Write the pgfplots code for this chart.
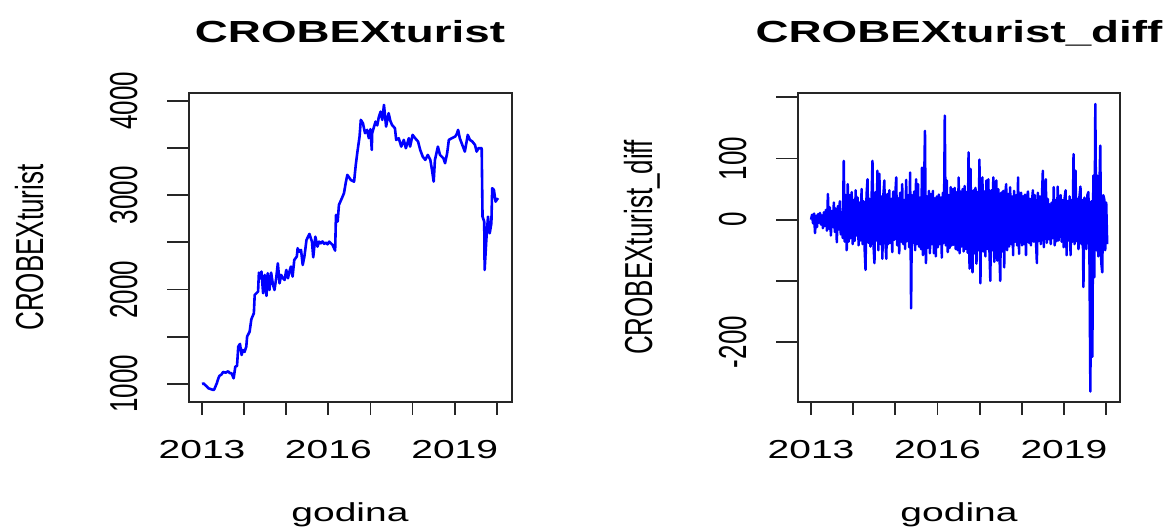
\documentclass[border=0pt]{standalone}
\usepackage{fontspec}
\setmainfont{Liberation Sans}
\usepackage{graphicx}
\usepackage{pgfplots}
\usepackage{pgfplotstable}
\pgfplotsset{compat=1.18}
\newcommand\hs[1]{\scalebox{1.5}[1]{#1}}
\newcommand\vs[1]{\scalebox{1}[1.5]{#1}}
\newcommand\tkfont{\fontsize{26}{26}\selectfont}

\pgfplotstableread{
t v
2013.00 1000
2013.04 1005
2013.07 990
2013.11 975
2013.15 954
2013.21 945
2013.27 936
2013.29 943
2013.35 1007
2013.38 1050
2013.41 1085
2013.46 1100
2013.50 1127
2013.56 1120
2013.62 1134
2013.66 1115
2013.70 1113
2013.75 1060
2013.79 1184
2013.83 1191
2013.86 1396
2013.90 1424
2013.94 1307
2013.97 1360
2014.01 1340
2014.05 1396
2014.07 1502
2014.13 1555
2014.17 1685
2014.23 1749
2014.25 1943
2014.29 1961
2014.33 1979
2014.35 2180
2014.38 2120
2014.41 2191
2014.45 1961
2014.49 2155
2014.53 1933
2014.56 2173
2014.60 1996
2014.64 2180
2014.68 2060
2014.72 1996
2014.76 2120
2014.80 2279
2014.84 2067
2014.88 2155
2014.92 2120
2014.96 2102
2015.00 2208
2015.04 2120
2015.08 2200
2015.11 2244
2015.15 2138
2015.19 2314
2015.25 2350
2015.27 2438
2015.31 2400
2015.35 2420
2015.39 2261
2015.43 2350
2015.48 2526
2015.55 2590
2015.61 2508
2015.64 2342
2015.69 2561
2015.74 2455
2015.78 2508
2015.82 2490
2015.86 2510
2015.90 2485
2015.94 2498
2015.98 2480
2016.02 2508
2016.06 2490
2016.10 2473
2016.16 2413
2016.18 2791
2016.22 2720
2016.25 2897
2016.32 2968
2016.37 3021
2016.41 3127
2016.45 3215
2016.49 3190
2016.53 3162
2016.61 3144
2016.65 3321
2016.69 3462
2016.74 3621
2016.77 3798
2016.82 3763
2016.87 3657
2016.92 3692
2016.96 3604
2017.00 3700
2017.03 3480
2017.04 3657
2017.08 3720
2017.12 3780
2017.16 3740
2017.20 3833
2017.24 3886
2017.28 3798
2017.32 3957
2017.37 3727
2017.40 3800
2017.43 3869
2017.47 3790
2017.51 3745
2017.58 3710
2017.61 3586
2017.67 3604
2017.73 3515
2017.79 3586
2017.84 3498
2017.91 3604
2017.94 3515
2018.00 3639
2018.06 3604
2018.13 3568
2018.18 3480
2018.24 3409
2018.30 3374
2018.36 3427
2018.42 3374
2018.46 3268
2018.50 3144
2018.53 3374
2018.60 3515
2018.65 3427
2018.73 3392
2018.77 3339
2018.82 3445
2018.86 3586
2018.93 3604
2019.01 3621
2019.05 3650
2019.08 3692
2019.12 3604
2019.18 3533
2019.24 3462
2019.31 3639
2019.36 3586
2019.42 3568
2019.48 3533
2019.52 3462
2019.56 3498
2019.64 3498
2019.66 2773
2019.70 2720
2019.71 2208
2019.75 2526
2019.79 2773
2019.83 2597
2019.87 2703
2019.89 3074
2019.93 3056
2019.97 2932
2020.01 2960
2020.03 2950
}\leveldata

\pgfplotstableread[row sep=\\]{
d\\
0\\ 8\\ -6\\ 10\\ -22\\ 6\\ -12\\ 9\\ -5\\ 11\\ -8\\ 7\\ -14\\ 12\\ -10\\ 16\\ -18\\ 42\\ -15\\ 20\\
-26\\ 14\\ -12\\ 28\\ -20\\ 18\\ -37\\ 22\\ -16\\ 30\\ -24\\ 12\\ -30\\ 96\\ -36\\ 40\\ -50\\ 58\\ -36\\ 40\\
-30\\ 45\\ -40\\ 32\\ -35\\ 48\\ -26\\ 36\\ -42\\ 28\\ -34\\ 50\\ -40\\ 30\\ -45\\ -82\\ 40\\ 66\\ -38\\ 34\\
-44\\ 28\\ 96\\ -40\\ -71\\ 45\\ -34\\ 80\\ -50\\ 75\\ -40\\ 38\\ -64\\ 40\\ 64\\ -36\\ -64\\ 42\\ -40\\ 48\\
-38\\ 34\\ -53\\ 46\\ -33\\ 40\\ 69\\ -42\\ 35\\ -55\\ 44\\ -36\\ 58\\ -40\\ 32\\ -48\\ 65\\ -35\\ 40\\ -45\\
77\\ -145\\ 40\\ -38\\ 46\\ -50\\ 66\\ -40\\ 58\\ -44\\ 36\\ -48\\ 85\\ -58\\ 40\\ 145\\ -71\\ 38\\ -46\\ 47\\
-55\\ 42\\ -40\\ 47\\ -55\\ 35\\ -60\\ 38\\ -45\\ 41\\ -40\\ 36\\ -62\\ 44\\ -38\\ 170\\ -42\\ 64\\ -53\\ 40\\
-46\\ 53\\ -42\\ 50\\ -41\\ 52\\ -48\\ 45\\ -50\\ 69\\ -55\\ 46\\ -44\\ 50\\ -52\\ 55\\ -48\\ 45\\ -54\\ 110\\
-80\\ 83\\ -50\\ -86\\ 48\\ -55\\ 52\\ -72\\ 45\\ -50\\ 98\\ -104\\ 50\\ 69\\ -52\\ 46\\ -60\\ 64\\ -48\\ 66\\
-45\\ -100\\ 48\\ -50\\ 69\\ -69\\ 45\\ 64\\ -67\\ 50\\ -46\\ -100\\ 44\\ -52\\ 47\\ -78\\ 40\\ 58\\ -50\\ 42\\
-44\\ 53\\ -40\\ 38\\ -58\\ 47\\ -36\\ 40\\ -42\\ 69\\ -56\\ 35\\ 44\\ -42\\ 38\\ -40\\ 41\\ -58\\ 36\\ 46\\
-38\\ 34\\ -42\\ 30\\ 48\\ -36\\ 40\\ -32\\ -71\\ 44\\ -35\\ 38\\ -40\\ 32\\ 80\\ -45\\ 35\\ 66\\ -38\\ 34\\
-32\\ 25\\ -40\\ 28\\ -30\\ 53\\ -42\\ 32\\ -35\\ 54\\ -34\\ 30\\ 40\\ -36\\ 32\\ -45\\ 35\\ 48\\ -58\\ 30\\
-34\\ 38\\ -58\\ 32\\ -36\\ 107\\ -40\\ 80\\ -35\\ 34\\ -48\\ 38\\ 54\\ -40\\ 32\\ -110\\ 36\\ 25\\ -48\\ 40\\
45\\ -45\\ -281\\ 30\\ -224\\ 72\\ -94\\ 189\\ -50\\ 72\\ -60\\ 40\\ 121\\ -70\\ -86\\ 40\\ 34\\ -50\\ 28\\ -40\\
}\diffdata

\pgfplotsset{
  rbox/.style={
    scale only axis, height=309pt, anchor=south west,
    axis line style={line width=1.8pt, black!85},
    xtick={2013,2014,...,2020},
    xtick pos=lower,
    tick align=outside,
    major tick length=13pt,
    xtick style={line width=1.8pt, black!85},
    xticklabel style={anchor=base, font=\tkfont},
    xticklabel shift=44pt,
    ytick=\empty,
  },
  rticks/.style={
    scale only axis, height=309pt, anchor=south west,
    hide x axis, xtick=\empty, axis y line*=left,
    y axis line style={draw=none},
    tick align=outside,
    major tick length=22pt,
    ytick style={line width=1.8pt, black!85},
    yticklabel style={rotate=90, anchor=base, font=\tkfont},
    yticklabel shift=30pt,
  },
}

\begin{document}
\begin{tikzpicture}
\useasboundingbox (0,0) rectangle (1168pt,529pt);

% ---- left panel
\begin{axis}[rbox, width=323pt, at={(189pt,127pt)},
  xmin=2012.69, xmax=2020.36, ymin=809, ymax=4083,
  xticklabels={\hs{2013},,,\hs{2016},,,\hs{2019},}]
\addplot[blue, line width=2.6pt, line join=round] table[x=t, y=v] {\leveldata};
\end{axis}
\begin{axis}[rticks, width=323pt, at={(189pt,127pt)},
  xmin=2012.69, xmax=2020.36, ymin=809, ymax=4083,
  ytick={1000,1500,...,4000},
  yticklabels={\vs{1000},,\vs{2000},,\vs{3000},,\vs{4000}}]
\end{axis}

% ---- right panel
\begin{axis}[rbox, width=322pt, at={(798pt,127pt)},
  xmin=2012.69, xmax=2020.33, ymin=-298, ymax=207,
  xticklabels={\hs{2013},,,\hs{2016},,,\hs{2019},}]
\addplot[blue, line width=2.5pt, line join=round] table[x expr={2013+\coordindex*0.0235}, y=d] {\diffdata};
\end{axis}
\begin{axis}[rticks, width=322pt, at={(798pt,127pt)},
  xmin=2012.69, xmax=2020.33, ymin=-298, ymax=207,
  ytick={-200,-100,0,100,200},
  yticklabels={\vs{-200},,\vs{0},\vs{100},}]
\end{axis}

% ---- titles and labels
\node[anchor=base, font=\fontsize{30.5}{30.5}\selectfont\bfseries] at (350pt,486pt) {\hs{CROBEXturist}};
\node[anchor=base, font=\fontsize{30.5}{30.5}\selectfont\bfseries] at (959pt,486pt) {\hs{CROBEXturist\_diff}};
\node[anchor=base, font=\tkfont] at (350pt,7pt) {\hs{godina}};
\node[anchor=base, font=\tkfont] at (959pt,7pt) {\hs{godina}};
\node[anchor=base, rotate=90, font=\tkfont] at (43pt,281.5pt) {\vs{CROBEXturist}};
\node[anchor=base, rotate=90, font=\tkfont] at (652pt,281.5pt) {\vs{CROBEXturist\_diff}};
\end{tikzpicture}
\end{document}
